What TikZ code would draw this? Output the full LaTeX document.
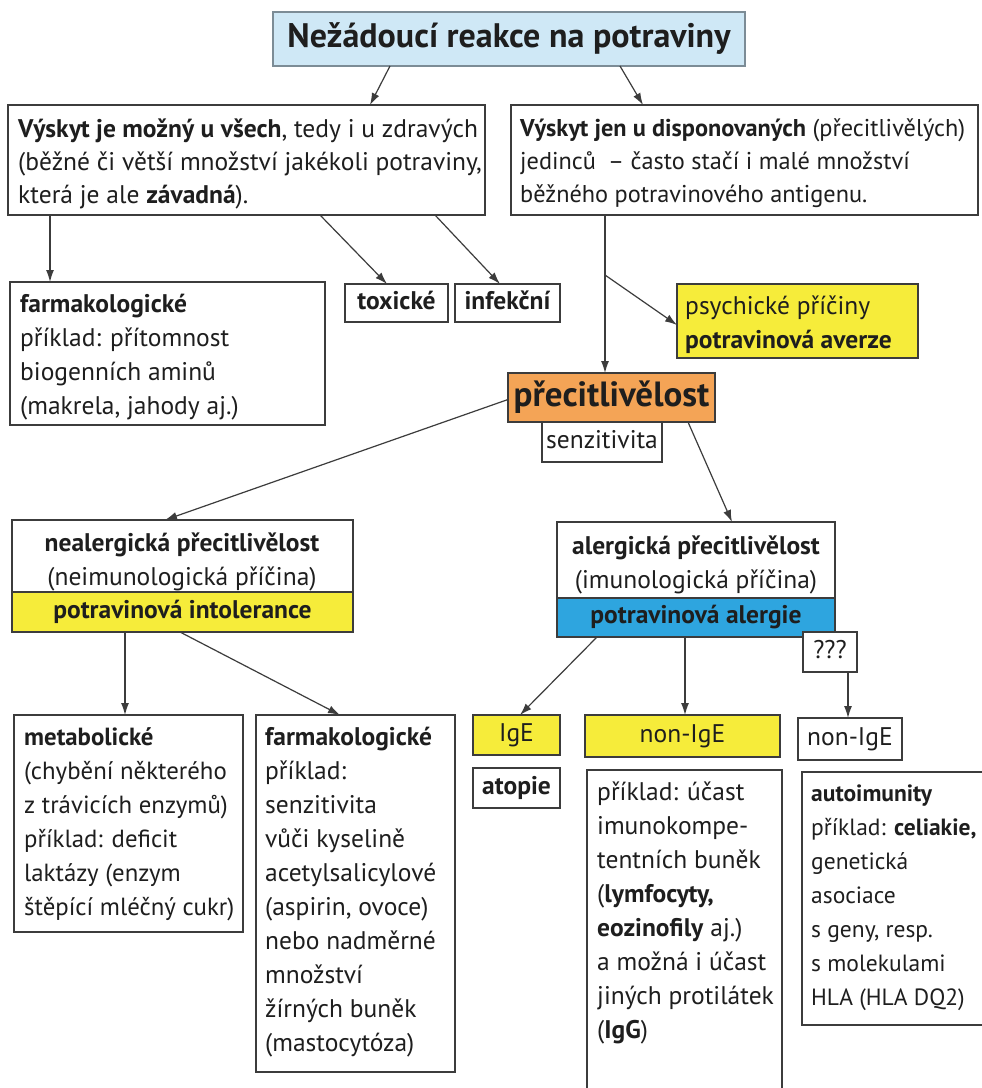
\documentclass[tikz,border=0pt]{standalone}
\usepackage{fontspec}
\setmainfont{PT Sans}
\usetikzlibrary{arrows.meta}
\definecolor{tc}{HTML}{1E1E1E}
\definecolor{lc}{HTML}{3C3C3C}
\definecolor{tblue}{HTML}{CFE8F6}
\definecolor{tborder}{HTML}{7C8C96}
\definecolor{orng}{HTML}{F4A456}
\definecolor{yell}{HTML}{F6EC3A}
\definecolor{blu}{HTML}{2EA5DF}
\tikzset{
  bx/.style={draw=lc, line width=1.3pt, inner sep=0pt, outer sep=0pt, rectangle, text=tc},
  arr/.style={-{Latex[length=12pt,width=8pt]}, draw=lc, line width=1.2pt},
  body/.style={font=\fontsize{25.5}{34}\selectfont, text=tc, align=left, inner sep=0pt, anchor=north west, execute at begin node=\strut},
  bodyc/.style={body, align=center, anchor=north},
  one/.style={font=\fontsize{25.5}{34}\selectfont, text height=18pt, text depth=6pt}
}
\begin{document}
\begin{tikzpicture}[x=1pt,y=-1pt]
\clip (0,0) rectangle (982,1088);
\fill[white] (0,0) rectangle (982,1088);

% title
\node[bx, draw=tborder, fill=tblue, minimum width=472, minimum height=54, anchor=north west,
  font=\bfseries\fontsize{34}{40}\selectfont, text height=24pt, text depth=8pt] (T) at (273,12) {Nežádoucí reakce na potraviny};

% level 1
\node[bx, fill=white, minimum width=477, minimum height=110, anchor=north west] (A) at (8,105) {};
\node[body, font=\fontsize{25.5}{33}\selectfont] (At) at (18,119) {\textbf{Výskyt je možný u všech}, tedy i u zdravých\\(běžné či větší množství jakékoli potraviny,\\která je ale \textbf{závadná}).};
\node[bx, fill=white, minimum width=467, minimum height=110, anchor=north west] (B) at (511,105) {};
\node[body, font=\fontsize{24.3}{33}\selectfont] (Bt) at (520,119) {\textbf{Výskyt jen u disponovaných} (přecitlivělých)\\jedinců\enspace– často stačí i malé množství\\běžného potravinového antigenu.};

% level 2
\node[bx, fill=white, minimum width=315, minimum height=143, anchor=north west] (F1) at (10,282) {};
\node[body] (F1t) at (20,294) {\textbf{farmakologické}\\příklad: přítomnost\\biogenních aminů\\(makrela, jahody aj.)};
\node[bx, fill=white, one, minimum width=103, minimum height=38, anchor=north west] (Tox) at (345,284) {\textbf{toxické}};
\node[bx, fill=white, one, minimum width=105, minimum height=38, anchor=north west] (Inf) at (455,284) {\textbf{infekční}};
\node[bx, fill=yell, minimum width=241, minimum height=74, anchor=north west] (Ps) at (677,284) {};
\node[body] (Pst) at (685,296) {psychické příčiny\\\textbf{potravinová averze}};

% precitlivelost
\node[bx, fill=orng, minimum width=207, minimum height=49, anchor=north west,
  font=\bfseries\fontsize{35}{40}\selectfont, text height=25pt, text depth=8pt] (P) at (508,373) {přecitlivělost};
\node[bx, fill=white, one, minimum width=120, minimum height=40, anchor=north west] (S) at (542,422) {senzitivita};

% level 3
\node[bx, fill=white, minimum width=341, minimum height=72, anchor=north west] (N) at (12,520) {};
\node[bodyc] (Nt) at (182,533) {\textbf{nealergická přecitlivělost}\\(neimunologická příčina)};
\node[bx, fill=yell, one, minimum width=341, minimum height=40, anchor=north west] (Nb) at (12,592) {\textbf{potravinová intolerance}};
\node[bx, fill=white, minimum width=278, minimum height=76, anchor=north west] (Al) at (557,522) {};
\node[bodyc] (Alt) at (696,536) {\textbf{alergická přecitlivělost}\\(imunologická příčina)};
\node[bx, fill=blu, one, minimum width=278, minimum height=39, anchor=north west] (Ab) at (557,598) {\textbf{potravinová alergie}};
\node[bx, fill=white, one, minimum width=54, minimum height=40, anchor=north west] (Q) at (803,632) {???};

% level 4
\node[bx, fill=white, minimum width=229, minimum height=217, anchor=north west] (M) at (14,715) {};
\node[body, font=\fontsize{24.8}{34}\selectfont] (Mt) at (24,727) {\textbf{metabolické}\\(chybění některého\\z trávicích enzymů)\\příklad: deficit\\laktázy (enzym\\štěpící mléčný cukr)};
\node[bx, fill=white, minimum width=199, minimum height=357, anchor=north west] (F2) at (256,715) {};
\node[body] (F2t) at (265,727) {\textbf{farmakologické}\\příklad:\\senzitivita\\vůči kyselině\\acetylsalicylové\\(aspirin, ovoce)\\nebo nadměrné\\množství\\žírných buněk\\(mastocytóza)};
\node[bx, fill=yell, one, minimum width=87, minimum height=40, anchor=north west] (I) at (473,715) {IgE};
\node[bx, fill=white, one, minimum width=87, minimum height=40, anchor=north west] (At2) at (473,768) {\textbf{atopie}};
\node[bx, fill=yell, one, minimum width=195, minimum height=42, anchor=north west] (NI) at (585,715) {non-IgE};
\node[bx, fill=white, minimum width=195, minimum height=330, anchor=north west] (Ex) at (587,770) {};
\node[body] (Ext) at (597,782) {příklad: účast\\imunokompe-\\tentních buněk\\(\textbf{lymfocyty,}\\\textbf{eozinofily} aj.)\\a možná i účast\\jiných protilátek\\(\textbf{IgG})};
\node[bx, fill=white, one, minimum width=104, minimum height=42, anchor=north west] (NI2) at (798,718) {non-IgE};
\node[bx, fill=white, minimum width=190, minimum height=253, anchor=north west] (Au) at (802,772) {};
\node[body, font=\fontsize{23.5}{34}\selectfont] (Aut) at (811,785) {\textbf{autoimunity}\\příklad: \textbf{celiakie,}\\genetická\\asociace\\s geny, resp.\\s molekulami\\HLA (HLA DQ2)};

% connectors
\draw[arr] ([xshift=117pt]T.south west) -- ([xshift=362pt]A.north west);
\draw[arr] ([xshift=347pt]T.south west) -- ([xshift=132pt]B.north west);
\draw[arr] ([xshift=42pt]A.south west) -- ([xshift=40pt]F1.north west);
\draw[arr] ([xshift=312pt]A.south west) -- ([xshift=42pt]Tox.north west);
\draw[arr] ([xshift=427pt]A.south west) -- ([xshift=45pt]Inf.north west);
\draw[arr] ([xshift=94pt]B.south west) -- ([xshift=97pt]P.north west);
\coordinate (br) at (605,275);
\draw[arr] (br) -- ([yshift=-4pt]Ps.west);
\draw[arr] ([yshift=-2pt]P.west) -- ([xshift=153pt]N.north west);
\draw[arr] ([xshift=180pt]P.south west) -- ([xshift=175pt]Al.north west);
\draw[arr] ([xshift=113pt]Nb.south west) -- ([xshift=111pt]M.north west);
\draw[arr] ([xshift=168pt]Nb.south west) -- ([xshift=84pt]F2.north west);
\draw[arr] ([xshift=40pt]Ab.south west) -- ([xshift=47pt]I.north west);
\draw[arr] ([xshift=128pt]Ab.south west) -- ([xshift=100pt]NI.north west);
\draw[arr] ([xshift=45pt]Q.south west) -- ([xshift=50pt]NI2.north west);
\end{tikzpicture}
\end{document}
